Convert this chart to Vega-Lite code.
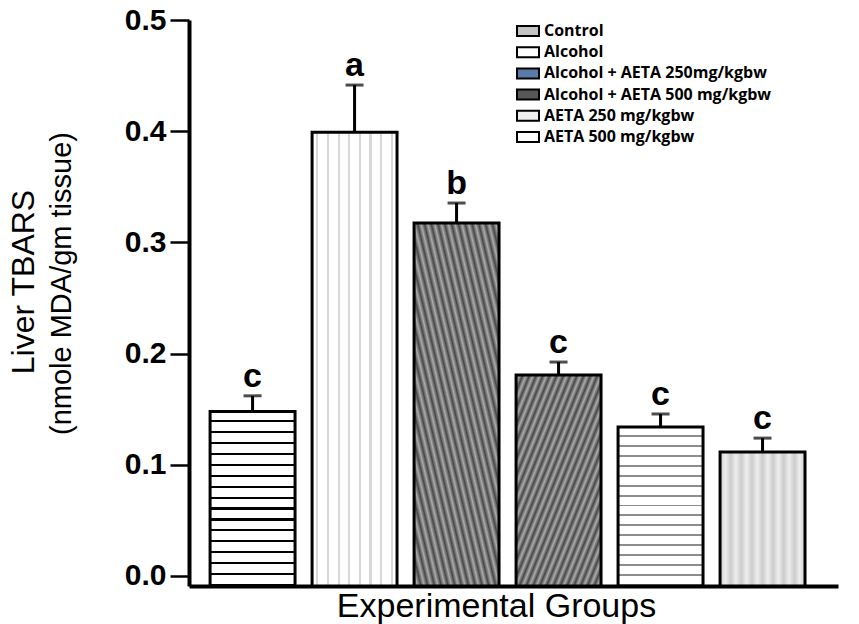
{
  "$schema": "https://vega.github.io/schema/vega-lite/v6.json",
  "autosize": {"type": "none"},
  "padding": {"left": 189, "top": 20, "right": 21, "bottom": 38},
  "width": 649,
  "height": 566,
  "background": "white",
  "config": {"view": {"stroke": null}},
  "title": {"text": "Liver TBARS", "orient": "left", "anchor": "middle", "frame": "group", "font": "Liberation Sans", "fontSize": 32, "fontWeight": "normal", "color": "black", "offset": 6, "dx": 21},
  "data": {"values": [
    {"group": "Control", "value": 0.148, "upper": 0.162, "letter": "c"},
    {"group": "Alcohol", "value": 0.399, "upper": 0.4415, "letter": "a"},
    {"group": "Alcohol + AETA 250mg/kgbw", "value": 0.3175, "upper": 0.3354, "letter": "b"},
    {"group": "Alcohol + AETA 500 mg/kgbw", "value": 0.1808, "upper": 0.1924, "letter": "c"},
    {"group": "AETA 250 mg/kgbw", "value": 0.134, "upper": 0.1457, "letter": "c"},
    {"group": "AETA 500 mg/kgbw", "value": 0.1115, "upper": 0.124, "letter": "c"}
  ]},
  "encoding": {
    "x": {"field": "group", "type": "nominal", "sort": null,
      "scale": {"paddingInner": 0.167, "paddingOuter": 0.265, "align": 0.39},
      "axis": {"labels": false, "ticks": false, "domainColor": "black", "domainWidth": 4, "title": "Experimental Groups", "titleFont": "Liberation Sans", "titleFontSize": 34, "titleFontWeight": "normal", "titleColor": "black", "titlePadding": 3, "titleX": 307}},
    "y": {"field": "value", "type": "quantitative",
      "scale": {"domain": [-0.009, 0.5], "nice": false, "zero": false},
      "axis": {"values": [0, 0.1, 0.2, 0.3, 0.4, 0.5], "format": ".1f", "grid": false, "labelFont": "Liberation Sans", "labelFontWeight": "bold", "labelFontSize": 30, "labelColor": "black", "labelPadding": 4, "tickSize": 19, "tickWidth": 2.5, "tickColor": "black", "domainColor": "black", "domainWidth": 4, "title": "(nmole MDA/gm tissue)", "titleFont": "Liberation Sans", "titleFontWeight": "normal", "titleFontSize": 29, "titleColor": "black", "titleLimit": 1000, "titleX": -113, "titleY": 263}}
  },
  "layer": [
    {
      "mark": {"type": "bar"},
      "encoding": {
        "y2": {"datum": -0.009},
        "fill": {"field": "group", "type": "nominal", "sort": null,
          "scale": {"range": ["#c4c4c4", "#ffffff", "#5a7aa8", "#575757", "#efefef", "#ffffff"]},
          "legend": {"orient": "none", "legendX": 331, "legendY": 3, "title": null, "labelFont": "Open Sans", "labelFontWeight": "bold", "labelFontSize": 16, "labelColor": "black", "labelLimit": 400, "labelOffset": 8, "symbolType": "M-2.2,-1H2.2V1H-2.2Z", "symbolSize": 100, "symbolStrokeColor": "black", "symbolStrokeWidth": 2, "symbolOpacity": 1, "rowPadding": 3.2}}
      }
    },
    {
      "mark": {"type": "bar", "stroke": "black", "strokeWidth": 3},
      "encoding": {
        "y2": {"datum": -0.009},
        "fill": {
          "condition": [
            {"test": "datum.group === 'Control'", "value": {"gradient": "linear", "x1": 0, "y1": 0, "x2": 0, "y2": 1, "stops": [
              {"offset": 0, "color": "#ffffff"}, {"offset": 0.05, "color": "#ffffff"}, {"offset": 0.05, "color": "#000000"}, {"offset": 0.0625, "color": "#000000"},
              {"offset": 0.0625, "color": "#ffffff"}, {"offset": 0.1125, "color": "#ffffff"}, {"offset": 0.1125, "color": "#000000"}, {"offset": 0.125, "color": "#000000"},
              {"offset": 0.125, "color": "#ffffff"}, {"offset": 0.175, "color": "#ffffff"}, {"offset": 0.175, "color": "#000000"}, {"offset": 0.1875, "color": "#000000"},
              {"offset": 0.1875, "color": "#ffffff"}, {"offset": 0.2375, "color": "#ffffff"}, {"offset": 0.2375, "color": "#000000"}, {"offset": 0.25, "color": "#000000"},
              {"offset": 0.25, "color": "#ffffff"}, {"offset": 0.3, "color": "#ffffff"}, {"offset": 0.3, "color": "#000000"}, {"offset": 0.3125, "color": "#000000"},
              {"offset": 0.3125, "color": "#ffffff"}, {"offset": 0.3625, "color": "#ffffff"}, {"offset": 0.3625, "color": "#000000"}, {"offset": 0.375, "color": "#000000"},
              {"offset": 0.375, "color": "#ffffff"}, {"offset": 0.425, "color": "#ffffff"}, {"offset": 0.425, "color": "#000000"}, {"offset": 0.4375, "color": "#000000"},
              {"offset": 0.4375, "color": "#ffffff"}, {"offset": 0.4875, "color": "#ffffff"}, {"offset": 0.4875, "color": "#000000"}, {"offset": 0.499, "color": "#000000"},
              {"offset": 0.499, "color": "#ffffff"}, {"offset": 0.55, "color": "#ffffff"}, {"offset": 0.55, "color": "#000000"}, {"offset": 0.5625, "color": "#000000"},
              {"offset": 0.5625, "color": "#ffffff"}, {"offset": 0.6125, "color": "#ffffff"}, {"offset": 0.6125, "color": "#000000"}, {"offset": 0.625, "color": "#000000"},
              {"offset": 0.625, "color": "#ffffff"}, {"offset": 0.675, "color": "#ffffff"}, {"offset": 0.675, "color": "#000000"}, {"offset": 0.6875, "color": "#000000"},
              {"offset": 0.6875, "color": "#ffffff"}, {"offset": 0.7375, "color": "#ffffff"}, {"offset": 0.7375, "color": "#000000"}, {"offset": 0.75, "color": "#000000"},
              {"offset": 0.75, "color": "#ffffff"}, {"offset": 0.8, "color": "#ffffff"}, {"offset": 0.8, "color": "#000000"}, {"offset": 0.8125, "color": "#000000"},
              {"offset": 0.8125, "color": "#ffffff"}, {"offset": 0.8625, "color": "#ffffff"}, {"offset": 0.8625, "color": "#000000"}, {"offset": 0.875, "color": "#000000"},
              {"offset": 0.875, "color": "#ffffff"}, {"offset": 0.925, "color": "#ffffff"}, {"offset": 0.925, "color": "#000000"}, {"offset": 0.9375, "color": "#000000"},
              {"offset": 0.9375, "color": "#ffffff"}, {"offset": 0.9875, "color": "#ffffff"}, {"offset": 0.9875, "color": "#000000"}, {"offset": 1, "color": "#000000"}
            ]}},
            {"test": "datum.group === 'Alcohol'", "value": {"gradient": "linear", "x1": 0, "y1": 0, "x2": 1, "y2": 0, "stops": [
              {"offset": 0, "color": "#ffffff"},
              {"offset": 0.05, "color": "#ffffff"}, {"offset": 0.05, "color": "#d8d8d8"}, {"offset": 0.075, "color": "#d8d8d8"}, {"offset": 0.075, "color": "#ffffff"},
              {"offset": 0.175, "color": "#ffffff"}, {"offset": 0.175, "color": "#d8d8d8"}, {"offset": 0.2, "color": "#d8d8d8"}, {"offset": 0.2, "color": "#ffffff"},
              {"offset": 0.3, "color": "#ffffff"}, {"offset": 0.3, "color": "#d8d8d8"}, {"offset": 0.325, "color": "#d8d8d8"}, {"offset": 0.325, "color": "#ffffff"},
              {"offset": 0.425, "color": "#ffffff"}, {"offset": 0.425, "color": "#d8d8d8"}, {"offset": 0.45, "color": "#d8d8d8"}, {"offset": 0.45, "color": "#ffffff"},
              {"offset": 0.55, "color": "#ffffff"}, {"offset": 0.55, "color": "#d8d8d8"}, {"offset": 0.575, "color": "#d8d8d8"}, {"offset": 0.575, "color": "#ffffff"},
              {"offset": 0.675, "color": "#ffffff"}, {"offset": 0.675, "color": "#d8d8d8"}, {"offset": 0.7, "color": "#d8d8d8"}, {"offset": 0.7, "color": "#ffffff"},
              {"offset": 0.8, "color": "#ffffff"}, {"offset": 0.8, "color": "#d8d8d8"}, {"offset": 0.825, "color": "#d8d8d8"}, {"offset": 0.825, "color": "#ffffff"},
              {"offset": 0.925, "color": "#ffffff"}, {"offset": 0.925, "color": "#d8d8d8"}, {"offset": 0.95, "color": "#d8d8d8"}, {"offset": 0.95, "color": "#ffffff"},
              {"offset": 1, "color": "#ffffff"}
            ]}},
            {"test": "datum.group === 'Alcohol + AETA 250mg/kgbw'", "value": {"gradient": "linear", "x1": 1, "y1": 0, "x2": 0, "y2": 1, "stops": [
              {"offset": 0, "color": "#474747"}, {"offset": 0.02, "color": "#ababab"}, {"offset": 0.04, "color": "#474747"}, {"offset": 0.06, "color": "#ababab"}, {"offset": 0.08, "color": "#474747"}, {"offset": 0.1, "color": "#ababab"}, {"offset": 0.12, "color": "#474747"}, {"offset": 0.14, "color": "#ababab"}, {"offset": 0.16, "color": "#474747"}, {"offset": 0.18, "color": "#ababab"}, {"offset": 0.2, "color": "#474747"}, {"offset": 0.22, "color": "#ababab"}, {"offset": 0.24, "color": "#474747"}, {"offset": 0.26, "color": "#ababab"}, {"offset": 0.28, "color": "#474747"}, {"offset": 0.3, "color": "#ababab"}, {"offset": 0.32, "color": "#474747"}, {"offset": 0.34, "color": "#ababab"}, {"offset": 0.36, "color": "#474747"}, {"offset": 0.38, "color": "#ababab"}, {"offset": 0.4, "color": "#474747"}, {"offset": 0.42, "color": "#ababab"}, {"offset": 0.44, "color": "#474747"}, {"offset": 0.46, "color": "#ababab"}, {"offset": 0.48, "color": "#474747"}, {"offset": 0.5, "color": "#ababab"}, {"offset": 0.52, "color": "#474747"}, {"offset": 0.54, "color": "#ababab"}, {"offset": 0.56, "color": "#474747"}, {"offset": 0.58, "color": "#ababab"}, {"offset": 0.6, "color": "#474747"}, {"offset": 0.62, "color": "#ababab"}, {"offset": 0.64, "color": "#474747"}, {"offset": 0.66, "color": "#ababab"}, {"offset": 0.68, "color": "#474747"}, {"offset": 0.7, "color": "#ababab"}, {"offset": 0.72, "color": "#474747"}, {"offset": 0.74, "color": "#ababab"}, {"offset": 0.76, "color": "#474747"}, {"offset": 0.78, "color": "#ababab"}, {"offset": 0.8, "color": "#474747"}, {"offset": 0.82, "color": "#ababab"}, {"offset": 0.84, "color": "#474747"}, {"offset": 0.86, "color": "#ababab"}, {"offset": 0.88, "color": "#474747"}, {"offset": 0.9, "color": "#ababab"}, {"offset": 0.92, "color": "#474747"}, {"offset": 0.94, "color": "#ababab"}, {"offset": 0.96, "color": "#474747"}, {"offset": 0.98, "color": "#ababab"}, {"offset": 1, "color": "#474747"}
            ]}},
            {"test": "datum.group === 'Alcohol + AETA 500 mg/kgbw'", "value": {"gradient": "linear", "x1": 0, "y1": 0, "x2": 1, "y2": 1, "stops": [
              {"offset": 0, "color": "#474747"}, {"offset": 0.02, "color": "#ababab"}, {"offset": 0.04, "color": "#474747"}, {"offset": 0.06, "color": "#ababab"}, {"offset": 0.08, "color": "#474747"}, {"offset": 0.1, "color": "#ababab"}, {"offset": 0.12, "color": "#474747"}, {"offset": 0.14, "color": "#ababab"}, {"offset": 0.16, "color": "#474747"}, {"offset": 0.18, "color": "#ababab"}, {"offset": 0.2, "color": "#474747"}, {"offset": 0.22, "color": "#ababab"}, {"offset": 0.24, "color": "#474747"}, {"offset": 0.26, "color": "#ababab"}, {"offset": 0.28, "color": "#474747"}, {"offset": 0.3, "color": "#ababab"}, {"offset": 0.32, "color": "#474747"}, {"offset": 0.34, "color": "#ababab"}, {"offset": 0.36, "color": "#474747"}, {"offset": 0.38, "color": "#ababab"}, {"offset": 0.4, "color": "#474747"}, {"offset": 0.42, "color": "#ababab"}, {"offset": 0.44, "color": "#474747"}, {"offset": 0.46, "color": "#ababab"}, {"offset": 0.48, "color": "#474747"}, {"offset": 0.5, "color": "#ababab"}, {"offset": 0.52, "color": "#474747"}, {"offset": 0.54, "color": "#ababab"}, {"offset": 0.56, "color": "#474747"}, {"offset": 0.58, "color": "#ababab"}, {"offset": 0.6, "color": "#474747"}, {"offset": 0.62, "color": "#ababab"}, {"offset": 0.64, "color": "#474747"}, {"offset": 0.66, "color": "#ababab"}, {"offset": 0.68, "color": "#474747"}, {"offset": 0.7, "color": "#ababab"}, {"offset": 0.72, "color": "#474747"}, {"offset": 0.74, "color": "#ababab"}, {"offset": 0.76, "color": "#474747"}, {"offset": 0.78, "color": "#ababab"}, {"offset": 0.8, "color": "#474747"}, {"offset": 0.82, "color": "#ababab"}, {"offset": 0.84, "color": "#474747"}, {"offset": 0.86, "color": "#ababab"}, {"offset": 0.88, "color": "#474747"}, {"offset": 0.9, "color": "#ababab"}, {"offset": 0.92, "color": "#474747"}, {"offset": 0.94, "color": "#ababab"}, {"offset": 0.96, "color": "#474747"}, {"offset": 0.98, "color": "#ababab"}, {"offset": 1, "color": "#474747"}
            ]}},
            {"test": "datum.group === 'AETA 250 mg/kgbw'", "value": {"gradient": "linear", "x1": 0, "y1": 0, "x2": 0, "y2": 1, "stops": [
              {"offset": 0, "color": "#ffffff"}, {"offset": 0.05, "color": "#ffffff"}, {"offset": 0.05, "color": "#8c8c8c"}, {"offset": 0.0625, "color": "#8c8c8c"},
              {"offset": 0.0625, "color": "#ffffff"}, {"offset": 0.1125, "color": "#ffffff"}, {"offset": 0.1125, "color": "#8c8c8c"}, {"offset": 0.125, "color": "#8c8c8c"},
              {"offset": 0.125, "color": "#ffffff"}, {"offset": 0.175, "color": "#ffffff"}, {"offset": 0.175, "color": "#8c8c8c"}, {"offset": 0.1875, "color": "#8c8c8c"},
              {"offset": 0.1875, "color": "#ffffff"}, {"offset": 0.2375, "color": "#ffffff"}, {"offset": 0.2375, "color": "#8c8c8c"}, {"offset": 0.25, "color": "#8c8c8c"},
              {"offset": 0.25, "color": "#ffffff"}, {"offset": 0.3, "color": "#ffffff"}, {"offset": 0.3, "color": "#8c8c8c"}, {"offset": 0.3125, "color": "#8c8c8c"},
              {"offset": 0.3125, "color": "#ffffff"}, {"offset": 0.3625, "color": "#ffffff"}, {"offset": 0.3625, "color": "#8c8c8c"}, {"offset": 0.375, "color": "#8c8c8c"},
              {"offset": 0.375, "color": "#ffffff"}, {"offset": 0.425, "color": "#ffffff"}, {"offset": 0.425, "color": "#8c8c8c"}, {"offset": 0.4375, "color": "#8c8c8c"},
              {"offset": 0.4375, "color": "#ffffff"}, {"offset": 0.4875, "color": "#ffffff"}, {"offset": 0.4875, "color": "#8c8c8c"}, {"offset": 0.5, "color": "#8c8c8c"},
              {"offset": 0.5, "color": "#ffffff"}, {"offset": 0.55, "color": "#ffffff"}, {"offset": 0.55, "color": "#8c8c8c"}, {"offset": 0.5625, "color": "#8c8c8c"},
              {"offset": 0.5625, "color": "#ffffff"}, {"offset": 0.6125, "color": "#ffffff"}, {"offset": 0.6125, "color": "#8c8c8c"}, {"offset": 0.625, "color": "#8c8c8c"},
              {"offset": 0.625, "color": "#ffffff"}, {"offset": 0.675, "color": "#ffffff"}, {"offset": 0.675, "color": "#8c8c8c"}, {"offset": 0.6875, "color": "#8c8c8c"},
              {"offset": 0.6875, "color": "#ffffff"}, {"offset": 0.7375, "color": "#ffffff"}, {"offset": 0.7375, "color": "#8c8c8c"}, {"offset": 0.75, "color": "#8c8c8c"},
              {"offset": 0.75, "color": "#ffffff"}, {"offset": 0.8, "color": "#ffffff"}, {"offset": 0.8, "color": "#8c8c8c"}, {"offset": 0.8125, "color": "#8c8c8c"},
              {"offset": 0.8125, "color": "#ffffff"}, {"offset": 0.8625, "color": "#ffffff"}, {"offset": 0.8625, "color": "#8c8c8c"}, {"offset": 0.875, "color": "#8c8c8c"},
              {"offset": 0.875, "color": "#ffffff"}, {"offset": 0.925, "color": "#ffffff"}, {"offset": 0.925, "color": "#8c8c8c"}, {"offset": 0.9375, "color": "#8c8c8c"},
              {"offset": 0.9375, "color": "#ffffff"}, {"offset": 0.9875, "color": "#ffffff"}, {"offset": 0.9875, "color": "#8c8c8c"}, {"offset": 1, "color": "#8c8c8c"}
            ]}}
          ],
          "value": {"gradient": "linear", "x1": 0, "y1": 0, "x2": 1, "y2": 0, "stops": [
            {"offset": 0, "color": "#cccccc"}, {"offset": 0.0625, "color": "#eeeeee"}, {"offset": 0.125, "color": "#cccccc"}, {"offset": 0.1875, "color": "#eeeeee"},
            {"offset": 0.25, "color": "#cccccc"}, {"offset": 0.3125, "color": "#eeeeee"}, {"offset": 0.375, "color": "#cccccc"}, {"offset": 0.4375, "color": "#eeeeee"},
            {"offset": 0.5, "color": "#cccccc"}, {"offset": 0.5625, "color": "#eeeeee"}, {"offset": 0.625, "color": "#cccccc"}, {"offset": 0.6875, "color": "#eeeeee"},
            {"offset": 0.75, "color": "#cccccc"}, {"offset": 0.8125, "color": "#eeeeee"}, {"offset": 0.875, "color": "#cccccc"}, {"offset": 0.9375, "color": "#eeeeee"},
            {"offset": 1, "color": "#cccccc"}
          ]}
        }
      }
    },
    {
      "mark": {"type": "rule", "color": "black", "strokeWidth": 3},
      "encoding": {"y2": {"field": "upper"}}
    },
    {
      "mark": {"type": "tick", "color": "black", "size": 18, "thickness": 3},
      "encoding": {"y": {"field": "upper", "type": "quantitative"}}
    },
    {
      "mark": {"type": "text", "font": "Liberation Sans", "fontWeight": "bold", "fontSize": 34, "color": "black", "baseline": "alphabetic", "align": "center", "dy": -9},
      "encoding": {"y": {"field": "upper", "type": "quantitative"}, "text": {"field": "letter"}}
    }
  ]
}
